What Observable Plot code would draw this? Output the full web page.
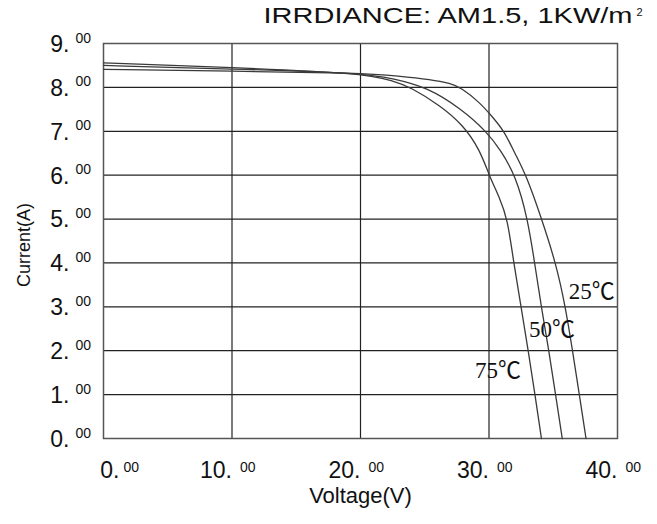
<!DOCTYPE html>
<html><head><meta charset="utf-8">
<script src="https://cdn.jsdelivr.net/npm/d3@7"></script>
<script src="https://cdn.jsdelivr.net/npm/@observablehq/plot@0.6"></script>
<style>body{margin:0;background:#fff}</style>
</head><body><div id="chart"></div>
<script>
// ---- data ----
const temps = ["25℃", "50℃", "75℃"];
const v25 = [0, 10, 20, 23, 25.5, 27, 27.8, 29.3, 30.2, 31.2, 32, 32.9, 34.1, 35.2, 35.95, 36.5, 37.03, 37.55];
const i25 = [8.41, 8.37, 8.33, 8.26, 8.18, 8.09, 8.0, 7.65, 7.35, 7.0, 6.5, 6.0, 5.0, 4.0, 3.0, 2.0, 1.0, 0];
const v50 = [0, 10, 20, 22.6, 25.2, 27.8, 29.8, 30.9, 32.06, 33.02, 33.55, 34.07, 34.66, 35.18, 35.7];
const i50 = [8.50, 8.42, 8.33, 8.2, 8.0, 7.52, 7.0, 6.57, 6.0, 5.0, 4.0, 3.0, 2.0, 1.0, 0];
const v75 = [0, 10, 20, 22.6, 23.9, 26.2, 28.0, 29.3, 30.0, 30.8, 31.45, 31.92, 32.5, 33.05, 33.58, 34.08];
const i75 = [8.56, 8.45, 8.33, 8.15, 8.0, 7.59, 7.14, 6.57, 6.0, 5.5, 5.0, 4.0, 3.0, 2.0, 1.0, 0];
const labelV = [38.0, 34.9, 30.7];
const labelI = [3.35, 2.49, 1.55];
const xTicks = [0, 10, 20, 30, 40];
const yTicks = [0, 1, 2, 3, 4, 5, 6, 7, 8, 9];
const xGrid = [10, 20, 30];
const yGrid = [1, 2, 3, 4, 5, 6, 7, 8];
const decimals = "00";
const title = "IRRDIANCE: AM1.5, 1KW/m";
const titleSup = "2";
const xTitle = "Voltage(V)";
const yTitle = "Current(A)";

// ---- build table ----
const series = [[temps[0], v25, i25], [temps[1], v50, i50], [temps[2], v75, i75]];
const curves = series.flatMap(([t, vs, is]) => vs.map((v, k) => ({temp: t, V: v, I: is[k]})));
const labels = temps.map((t, k) => ({temp: t, V: labelV[k], I: labelI[k]}));

const sans = "Liberation Sans, Arial, sans-serif";
const serif = "Liberation Serif, 'Times New Roman', 'Noto Sans CJK SC', serif";

const chart = Plot.plot({
  width: 657,
  height: 524,
  marginTop: 43,
  marginBottom: 86,
  marginLeft: 103,
  marginRight: 40,
  style: {fontFamily: sans, background: "#fff", overflow: "visible"},
  x: {domain: [0, 40], axis: null},
  y: {domain: [0, 9], axis: null},
  marks: [
    Plot.ruleX(xGrid, {stroke: "#222", strokeWidth: 1.2}),
    Plot.ruleY(yGrid, {stroke: "#222", strokeWidth: 1.2}),
    Plot.frame({stroke: "#555", strokeWidth: 1.5}),
    Plot.line(curves, {x: "V", y: "I", z: "temp", curve: "basis", stroke: "#3a3a3a", strokeWidth: 1.3}),
    Plot.text(labels, {x: "V", y: "I", text: "temp", fontFamily: serif, fontSize: 23, fill: "#111"}),
    // y tick labels
    Plot.text(yTicks, {frameAnchor: "left", y: d => d, text: d => `${d}.`, textAnchor: "end", dx: -34, dy: 1, fontSize: 23, fill: "#111"}),
    Plot.text(yTicks, {frameAnchor: "left", y: d => d, text: () => decimals, textAnchor: "start", lineAnchor: "bottom", dx: -28, dy: -1, fontSize: 14, fill: "#111"}),
    // x tick labels
    Plot.text(xTicks.filter(d => d !== 0), {frameAnchor: "bottom", x: d => d, text: d => `${d}.`, textAnchor: "end", lineAnchor: "bottom", dy: 39, fontSize: 23, fill: "#111"}),
    Plot.text(xTicks.filter(d => d !== 0), {frameAnchor: "bottom", x: d => d, text: () => decimals, textAnchor: "start", lineAnchor: "bottom", dx: 8, dy: 33, fontSize: 14, fill: "#111"}),
    Plot.text(xTicks.filter(d => d === 0), {frameAnchor: "bottom", x: d => d, text: d => `${d}.`, textAnchor: "end", lineAnchor: "bottom", dx: 16, dy: 39, fontSize: 23, fill: "#111"}),
    Plot.text(xTicks.filter(d => d === 0), {frameAnchor: "bottom", x: d => d, text: () => decimals, textAnchor: "start", lineAnchor: "bottom", dx: 20, dy: 33, fontSize: 14, fill: "#111"}),
    // axis titles
    Plot.text([xTitle], {frameAnchor: "bottom", text: d => d, textAnchor: "middle", lineAnchor: "bottom", dy: 64, fontSize: 22, fill: "#111"}),
    Plot.text([yTitle], {frameAnchor: "left", text: d => d, rotate: -90, textAnchor: "middle", lineAnchor: "bottom", dx: -74, dy: 4, fontSize: 18, fill: "#111"}),
    // title
    Plot.text([title], {frameAnchor: "top-right", text: d => d, textAnchor: "end", lineAnchor: "bottom", dx: 15, dy: -21, fontSize: 22, fill: "#111"}),
    Plot.text([titleSup], {frameAnchor: "top-right", text: d => d, textAnchor: "start", lineAnchor: "bottom", dx: 19, dy: -28, fontSize: 11, fill: "#111"})
  ]
});
document.getElementById("chart").appendChild(chart);
d3.select(chart).selectAll("text").filter(function() { return this.textContent === title; })
  .attr("textLength", 369).attr("lengthAdjust", "spacingAndGlyphs");
</script>
</body></html>
